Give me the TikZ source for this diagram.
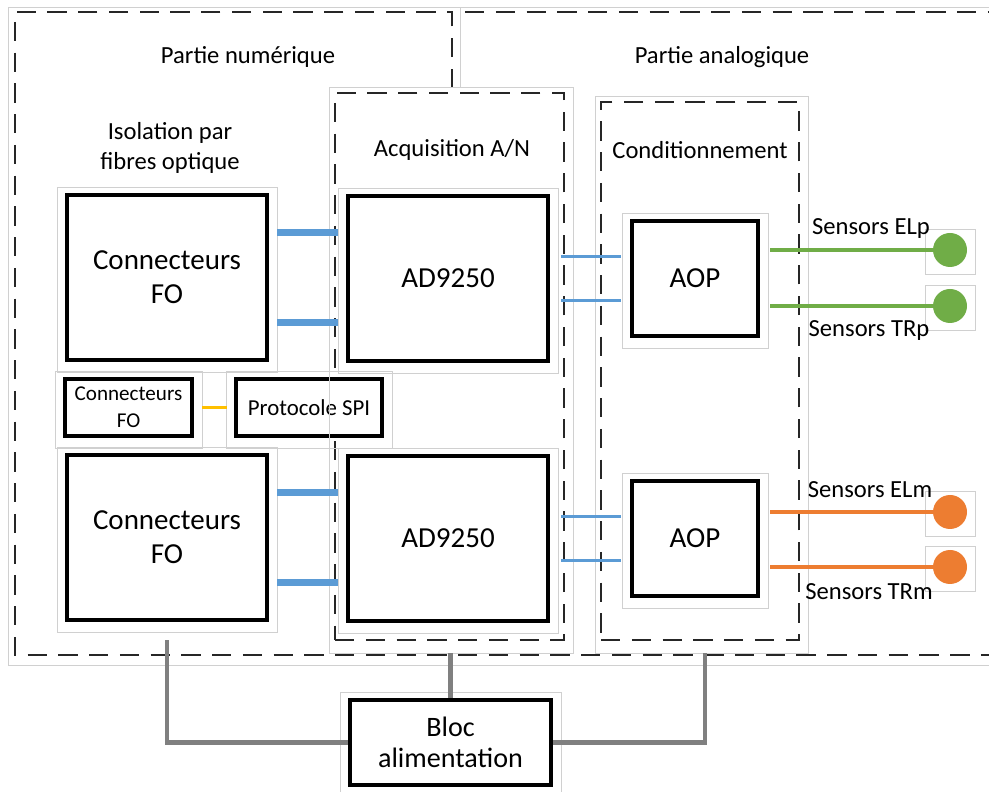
\documentclass[tikz,border=0pt]{standalone}
\usepackage{fontspec}
\setmainfont{Carlito}
\definecolor{busblue}{HTML}{5B9BD5}
\definecolor{elgreen}{HTML}{70AD47}
\definecolor{elorange}{HTML}{ED7D31}
\definecolor{spiyellow}{HTML}{FFC000}
\definecolor{powergray}{HTML}{808080}
\definecolor{framegray}{HTML}{D0D0D0}

\begin{document}
\begin{tikzpicture}[
    box/.style={draw=black, line width=2.3pt, fill=white, align=center, inner sep=0pt,
                font=\fontsize{16.5}{19.5}\selectfont},
    bigbox/.style={box, minimum width=4.0cm, minimum height=3.3cm},
    smallbox/.style={box, minimum height=1.14cm, font=\fontsize{12}{15.5}\selectfont},
    aopbox/.style={box, minimum width=2.52cm, minimum height=2.3cm},
    group/.style={draw=black!85, line width=1.1pt, dash pattern=on 11pt off 6.5pt},
    frame/.style={draw=framegray, line width=0.5pt},
    title/.style={align=center, font=\fontsize{14}{17}\selectfont},
    sensor/.style={circle, minimum size=0.68cm, inner sep=0pt},
    bus/.style={draw=busblue, line width=4.2pt},
    link/.style={draw=busblue, line width=1.7pt},
    wire/.style={line width=2.3pt},
    power/.style={draw=powergray, line width=2.8pt}
  ]
  \useasboundingbox (0,0) rectangle (19.78,15.82);

  % partie numerique / partie analogique
  \draw[frame] (9.20,14.06) -- (9.20,15.68) -- (0.16,15.68) -- (0.16,2.52) -- (19.78,2.52);
  \draw[frame] (9.20,15.68) -- (19.78,15.68);
  \draw[group] (9.04,14.06) -- (9.04,15.58) -- (0.30,15.58) -- (0.30,2.72) -- (19.78,2.72);
  \draw[group] (9.30,15.58) -- (19.78,15.58);
  \node[title] (tnum) at (4.96,14.68) {Partie numérique};
  \node[title] (tana) at (14.44,14.68) {Partie analogique};

  % sous-ensembles
  \node[group, minimum width=4.58cm, minimum height=10.94cm] (acq)  at (8.99,8.49) {};
  \node[group, minimum width=3.96cm, minimum height=10.76cm] (cond) at (14.00,8.40) {};
  \node[title] (tacq)  at (9.04,12.82) {Acquisition A/N};
  \node[title] (tcond) at (14.00,12.82) {Conditionnement};
  \node[title] (tiso)  at (3.40,12.86) {Isolation par\\fibres optique};

  % blocs
  \node[bigbox] (cfoa) at (3.34,10.27) {Connecteurs\\FO};
  \node[bigbox] (ada)  at (8.96,10.25) {AD9250};
  \node[smallbox, minimum width=2.54cm] (cfos) at (2.57,7.67) {Connecteurs\\FO};
  \node[smallbox, minimum width=2.92cm, font=\fontsize{13}{16}\selectfont] (spi) at (6.18,7.67) {Protocole SPI};
  \node[bigbox] (cfob) at (3.34,5.07) {Connecteurs\\FO};
  \node[bigbox] (adb)  at (8.96,5.05) {AD9250};
  \node[aopbox] (aopa) at (13.90,10.25) {AOP};
  \node[aopbox] (aopb) at (13.90,5.05) {AOP};
  \node[box, minimum width=4.02cm, minimum height=1.70cm, font=\fontsize{16}{18}\selectfont] (bloc) at (9.01,0.97) {Bloc\\alimentation};

  \foreach \n in {cfoa,ada,cfos,spi,cfob,adb,aopa,aopb,bloc}
    \draw[frame] ([shift={(-0.16,-0.2)}]\n.south west) rectangle ([shift={(0.16,0.12)}]\n.north east);
  \foreach \n in {acq,cond}
    \draw[frame] ([shift={(-0.1,-0.24)}]\n.south west) rectangle ([shift={(0.16,0.1)}]\n.north east);

  % capteurs
  \node[sensor, fill=elgreen]  (elp) at (19.00,10.82) {};
  \node[sensor, fill=elgreen]  (trp) at (19.00,9.70) {};
  \node[sensor, fill=elorange] (elm) at (19.00,5.58) {};
  \node[sensor, fill=elorange] (trm) at (19.00,4.48) {};
  \foreach \n in {elp,trp,elm,trm}
    \draw[frame] ([shift={(-0.5,-0.48)}]\n.center) rectangle ([shift={(0.5,0.42)}]\n.center);
  \node[title] (lelp) at (17.42,11.24) {Sensors ELp};
  \node[title] (ltrp) at (17.38,9.20) {Sensors TRp};
  \node[title] (lelm) at (17.40,6.02) {Sensors ELm};
  \node[title] (ltrm) at (17.38,3.98) {Sensors TRm};

  % liaisons
  \foreach \s in {0.9,-0.9} {
    \draw[bus, shorten <=0.16cm, shorten >=0.16cm] ([yshift=\s cm]cfoa.east) -- ([yshift=\s cm]cfoa.east -| ada.west);
    \draw[bus, shorten <=0.16cm, shorten >=0.16cm] ([yshift=\s cm]cfob.east) -- ([yshift=\s cm]cfob.east -| adb.west);
  }
  \foreach \s in {0.44,-0.44} {
    \draw[link, shorten <=0.22cm, shorten >=0.18cm] ([yshift=\s cm]ada.east) -- ([yshift=\s cm]ada.east -| aopa.west);
    \draw[link, shorten <=0.22cm, shorten >=0.18cm] ([yshift=\s cm]adb.east) -- ([yshift=\s cm]adb.east -| aopb.west);
  }
  \draw[draw=spiyellow, line width=1.5pt, shorten <=0.16cm, shorten >=0.14cm] (cfos) -- (spi);

  \draw[wire, elgreen, shorten >=0.2cm]  (elp) -- (elp -| aopa.east);
  \draw[wire, elgreen, shorten >=0.2cm]  (trp) -- (trp -| aopa.east);
  \draw[wire, elorange, shorten >=0.2cm] (elm) -- (elm -| aopb.east);
  \draw[wire, elorange, shorten >=0.2cm] (trm) -- (trm -| aopb.east);

  % alimentation
  \draw[power] ([yshift=-0.36cm]cfob.south) |- (bloc.west);
  \draw[power] (bloc.north) -- ([yshift=-0.24cm]bloc.north |- acq.south);
  \draw[power] ([shift={(0.1,-0.24)}]cond.south) |- (bloc.east);
\end{tikzpicture}
\end{document}
